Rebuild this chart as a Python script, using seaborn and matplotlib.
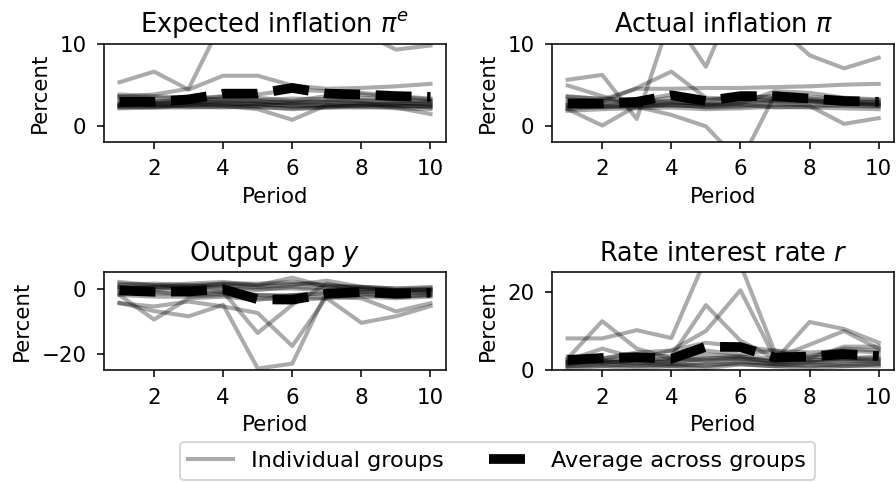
import numpy as np
import pandas as pd
import matplotlib
matplotlib.use("Agg")
import matplotlib.pyplot as plt
import seaborn as sns
from matplotlib.lines import Line2D

periods = list(range(1, 11))

# Expected inflation, one list per group
pi_e_groups = [
    [5.3, 6.6, 4.4, 6.1, 6.1, 4.9, 4.5, 4.6, 4.8, 5.1],
    [3.5, 3.8, 4.5, 13.0, 15.0, 16.0, 14.0, 11.4, 9.3, 9.8],
    [2.5, 2.4, 2.6, 2.4, 2.0, 0.7, 2.5, 2.8, 2.5, 2.2],
    [2.3, 2.2, 2.5, 2.8, 2.6, 2.9, 2.8, 2.7, 2.2, 1.4],
    [3.6, 3.4, 3.3, 3.5, 3.4, 3.0, 3.6, 3.8, 3.5, 3.2],
    [2.4, 2.6, 2.7, 3.0, 3.1, 3.3, 3.2, 3.0, 2.8, 2.6],
    [2.2, 2.3, 2.4, 2.5, 2.7, 2.4, 2.3, 2.5, 2.4, 2.3],
    [3.0, 2.8, 3.0, 3.3, 3.0, 2.7, 2.9, 3.1, 3.0, 2.9],
    [2.6, 2.5, 2.3, 2.2, 2.4, 2.6, 2.5, 2.3, 2.1, 2.0],
    [3.3, 3.0, 2.9, 2.8, 2.6, 2.3, 2.4, 2.6, 2.7, 2.5],
    [2.1, 2.2, 2.2, 2.3, 2.2, 2.1, 2.2, 2.2, 2.3, 2.4],
    [2.8, 2.9, 3.2, 3.6, 3.8, 4.4, 4.2, 4.0, 3.6, 3.3],
    [3.8, 3.6, 3.4, 3.1, 2.9, 2.8, 3.0, 3.4, 3.2, 3.0],
    [2.5, 2.7, 2.8, 2.6, 2.3, 2.0, 2.2, 2.4, 2.6, 2.8],
]
pi_e_avg = [2.9, 2.9, 3.2, 3.9, 3.9, 4.6, 3.9, 3.8, 3.6, 3.5]

# Actual inflation
pi_groups = [
    [5.6, 6.2, 0.8, 13.5, 7.2, 17.0, 12.4, 8.6, 7.0, 8.3],
    [3.6, 3.2, 4.5, 4.5, 4.6, 4.6, 4.7, 4.8, 5.0, 5.1],
    [2.0, 0.0, 2.4, 2.8, 2.7, 3.0, 3.2, 3.0, 2.8, 2.6],
    [4.9, 3.6, 2.3, 1.3, -0.1, -4.5, 3.8, 3.0, 2.7, 2.5],
    [2.5, 2.9, 4.6, 6.6, 3.4, 3.2, 3.0, 2.9, 2.7, 2.6],
    [2.0, 2.3, 2.4, 2.5, 2.3, 2.5, 2.8, 2.4, 0.2, 0.9],
    [2.6, 2.5, 2.6, 3.0, 2.6, 2.8, 3.0, 3.1, 2.8, 2.9],
    [2.2, 2.4, 2.2, 2.6, 2.2, 2.3, 2.5, 2.6, 2.4, 2.3],
    [3.2, 3.0, 2.8, 3.4, 3.0, 3.6, 3.4, 3.3, 3.0, 2.8],
    [1.8, 2.0, 2.1, 2.2, 2.0, 2.1, 2.3, 2.2, 2.1, 2.0],
    [2.9, 2.7, 3.0, 3.8, 3.2, 3.4, 3.6, 3.5, 3.2, 3.1],
    [2.4, 2.2, 2.5, 2.4, 2.5, 2.6, 2.2, 2.3, 2.5, 2.4],
    [3.5, 3.3, 3.1, 2.9, 2.5, 2.7, 4.2, 4.0, 3.4, 3.2],
]
pi_avg = [2.7, 2.7, 2.9, 3.7, 3.0, 3.6, 3.6, 3.3, 3.0, 2.9]

# Output gap
y_groups = [
    [-4.4, -6.9, -8.5, -5.0, -24.5, -23.0, -1.0, -1.5, -2.5, -2.0],
    [0.5, -0.5, 0.0, -1.0, -13.6, -5.0, 1.5, -0.5, -1.0, -0.8],
    [-4.5, -5.5, -4.0, -5.5, -7.5, -17.6, -2.5, -3.0, -7.0, -4.5],
    [-2.0, -9.5, -3.0, -2.5, -3.5, -2.0, -1.5, -2.0, -2.5, -2.0],
    [-1.5, -1.0, -2.0, -1.5, -2.0, -2.5, -3.0, -10.5, -8.5, -5.4],
    [1.5, 1.0, 1.5, 2.0, 1.0, 3.3, 0.5, 0.5, 0.0, 0.5],
    [0.5, 0.0, 0.5, 1.0, 0.5, 1.0, 2.4, 0.5, -0.5, 0.0],
    [-0.5, 0.5, 0.0, 0.5, 0.0, 0.0, -0.5, 0.0, -0.5, -0.5],
    [1.0, 1.5, 1.0, 1.5, 1.0, 1.5, 1.0, 0.5, 0.0, 0.0],
    [-1.0, -1.5, -1.5, -1.0, -2.0, -2.0, -1.5, -1.0, -1.5, -1.0],
    [0.0, 0.5, 1.0, 0.0, -0.5, 0.5, 0.0, -1.0, -1.0, -1.5],
    [-2.0, -2.5, -2.5, -2.0, -3.0, -3.5, -3.0, -2.5, -3.0, -2.5],
    [2.0, 1.0, 0.5, 1.5, 1.5, 2.0, 1.0, 0.0, -0.5, -0.5],
]
y_avg = [-0.6, -1.0, -0.9, -0.2, -3.3, -3.4, -1.6, -1.1, -1.6, -1.3]

# Interest rate
r_groups = [
    [8.1, 8.1, 10.2, 8.2, 28.6, 27.0, 4.5, 3.5, 3.0, 3.5],
    [2.5, 5.5, 3.0, 5.0, 10.0, 20.4, 3.0, 3.5, 5.5, 5.0],
    [2.0, 3.0, 4.0, 3.5, 16.6, 7.5, 3.0, 2.5, 3.0, 3.0],
    [3.0, 12.5, 5.5, 3.0, 4.0, 3.5, 2.0, 2.5, 3.0, 2.5],
    [2.0, 2.5, 3.0, 2.5, 3.0, 3.0, 2.5, 12.3, 10.5, 7.0],
    [1.5, 2.0, 2.5, 2.0, 3.0, 3.5, 3.0, 6.5, 10.0, 5.5],
    [1.0, 1.5, 1.0, 1.5, 1.0, 2.0, 1.5, 1.0, 1.5, 1.5],
    [2.0, 2.0, 2.5, 3.0, 2.5, 3.0, 2.0, 2.0, 2.5, 2.0],
    [3.5, 3.0, 4.5, 5.0, 7.0, 6.0, 5.0, 4.5, 5.0, 4.5],
    [1.0, 1.0, 1.5, 1.0, 1.5, 1.5, 1.0, 1.5, 1.0, 1.0],
    [2.5, 2.0, 2.0, 1.5, 2.0, 2.5, 1.5, 2.0, 2.0, 2.5],
    [0.5, 1.0, 0.5, 1.0, 0.5, 1.5, 1.0, 0.5, 1.0, 1.5],
    [1.5, 2.5, 1.5, 2.5, 5.0, 4.0, 5.0, 3.0, 6.0, 6.0],
]
r_avg = [2.6, 3.1, 3.3, 2.9, 6.0, 5.9, 3.2, 3.5, 4.1, 3.6]

titles = [r"Expected inflation $\pi^e$", r"Actual inflation $\pi$",
          r"Output gap $y$", r"Rate interest rate $r$"]
ylims = [(-2, 10), (-2, 10), (-25, 5), (0, 25)]
yticks = [[0, 10], [0, 10], [-20, 0], [0, 20]]

plt.rcParams["font.size"] = 11

fig, axes = plt.subplots(2, 2, figsize=(6.4, 3.443), dpi=140)
fig.subplots_adjust(left=0.116, right=0.998, top=0.909, bottom=0.232,
                    wspace=0.31, hspace=1.33)

panels = [(pi_e_groups, pi_e_avg), (pi_groups, pi_avg),
          (y_groups, y_avg), (r_groups, r_avg)]

for ax, (groups, avg), title, ylim, yt in zip(axes.flat, panels, titles, ylims, yticks):
    rows = []
    for g, vals in enumerate(groups):
        for t, v in zip(periods, vals):
            rows.append({"Period": t, "Percent": v, "group": g})
    df = pd.DataFrame(rows)
    sns.lineplot(data=df, x="Period", y="Percent", units="group", estimator=None,
                 color="black", alpha=0.33, lw=2.1, ax=ax, legend=False)
    sns.lineplot(x=periods, y=avg, color="black", lw=5, linestyle="--", ax=ax)
    ax.set_title(title, fontsize=13.2)
    ax.set_ylim(*ylim)
    ax.set_yticks(yt)
    ax.set_xlim(0.55, 10.45)
    ax.set_xticks([2, 4, 6, 8, 10])
    ax.tick_params(pad=5.5)
    ax.set_xlabel("Period")
    ax.set_ylabel("Percent", labelpad=5)

handles = [Line2D([0], [0], color="black", alpha=0.33, lw=2.1),
           Line2D([0], [0], color="black", lw=5, linestyle="--")]
fig.legend(handles, ["Individual groups", "Average across groups"],
           loc="center", bbox_to_anchor=(0.555, 0.044), ncol=2, fontsize=11.5)

fig.savefig("out.png", dpi=140)
